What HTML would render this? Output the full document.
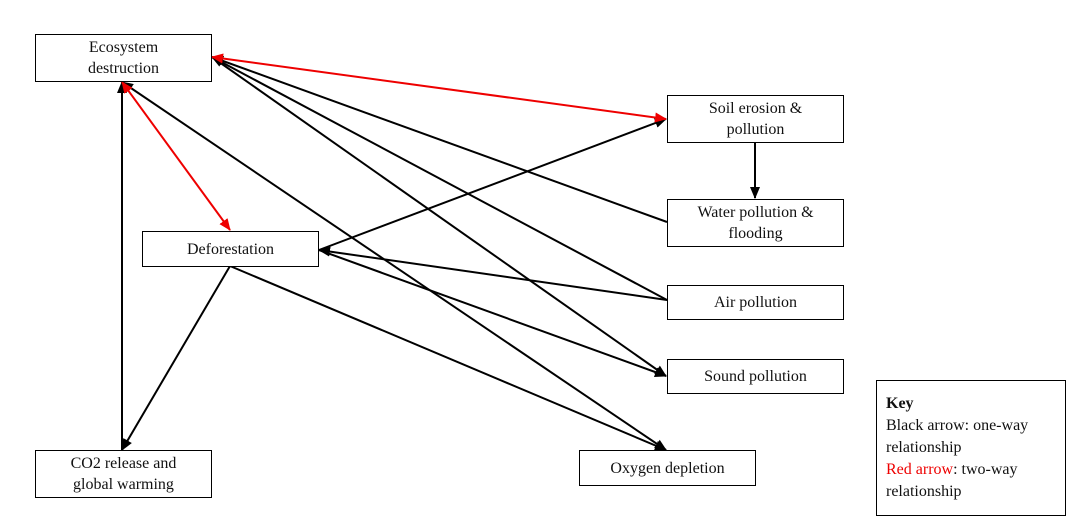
<!DOCTYPE html>
<html><head><meta charset="utf-8"><style>
body{margin:0;background:#fff;width:1073px;height:528px;overflow:hidden;font-family:"Liberation Serif",serif;}
.b{position:absolute;border:1.3px solid #000;box-sizing:border-box;background:#fff;display:flex;align-items:center;justify-content:center;text-align:center;font-size:16px;line-height:21px;color:#111;}
svg{position:absolute;left:0;top:0;}
</style></head><body>
<svg width="1073" height="528">
<defs>
<marker id="k" markerWidth="12" markerHeight="10" refX="11" refY="5" orient="auto-start-reverse" markerUnits="userSpaceOnUse"><path d="M0,0 L12,5 L0,10z" fill="#000"/></marker>
<marker id="r" markerWidth="12" markerHeight="10" refX="11" refY="5" orient="auto-start-reverse" markerUnits="userSpaceOnUse"><path d="M0,0 L12,5 L0,10z" fill="#e00"/></marker>
</defs>
<g stroke="#000" stroke-width="2" fill="none">
<line x1="667" y1="222" x2="212" y2="57" marker-end="url(#k)"/>
<line x1="667" y1="300" x2="212" y2="57" marker-end="url(#k)"/>
<line x1="212" y1="57" x2="666" y2="376" marker-end="url(#k)"/>
<line x1="667" y1="300" x2="319" y2="250" marker-end="url(#k)"/>
<line x1="319" y1="250" x2="666" y2="376" marker-end="url(#k)"/>
<line x1="319" y1="250" x2="666" y2="119" marker-end="url(#k)"/>
<line x1="230" y1="266" x2="666" y2="450" marker-end="url(#k)"/>
<line x1="122" y1="82" x2="666" y2="450" marker-start="url(#k)" marker-end="url(#k)"/>
<line x1="122" y1="450" x2="122" y2="82" marker-end="url(#k)"/>
<line x1="230" y1="266" x2="122" y2="450" marker-end="url(#k)"/>
<line x1="755" y1="142" x2="755" y2="198" marker-end="url(#k)"/>
</g>
<g stroke="#e00" stroke-width="2" fill="none">
<line x1="212" y1="57" x2="666" y2="119" marker-start="url(#r)" marker-end="url(#r)"/>
<line x1="122" y1="82" x2="230" y2="230" marker-start="url(#r)" marker-end="url(#r)"/>
</g>
</svg>
<div class="b" style="left:35px;top:34px;width:177px;height:48px">Ecosystem<br>destruction</div>
<div class="b" style="left:142px;top:231px;width:177px;height:36px">Deforestation</div>
<div class="b" style="left:35px;top:450px;width:177px;height:48px">CO2 release and<br>global warming</div>
<div class="b" style="left:667px;top:95px;width:177px;height:48px">Soil erosion &amp;<br>pollution</div>
<div class="b" style="left:667px;top:199px;width:177px;height:48px">Water pollution &amp;<br>flooding</div>
<div class="b" style="left:667px;top:285px;width:177px;height:35px">Air pollution</div>
<div class="b" style="left:667px;top:359px;width:177px;height:35px">Sound pollution</div>
<div class="b" style="left:579px;top:450px;width:177px;height:36px">Oxygen depletion</div>
<div style="position:absolute;left:876px;top:380px;width:190px;height:136px;border:1.3px solid #000;box-sizing:border-box;padding:12px 0 0 9px;font-size:16px;line-height:22px;color:#111;">
<b>Key</b><br>Black arrow: one-way<br>relationship<br><span style="color:#e00">Red arrow</span>: two-way<br>relationship</div>
</body></html>
